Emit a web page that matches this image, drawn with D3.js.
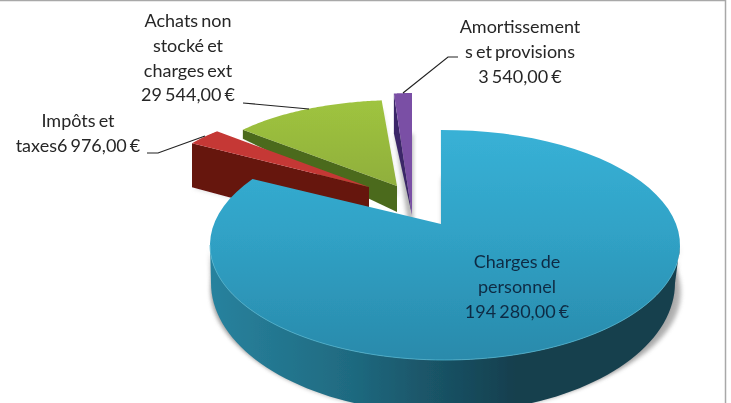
<!DOCTYPE html>
<meta charset="utf-8">
<style>
body { margin: 0; background: #fff; }
text { font-family: Lato, sans-serif; font-size: 18px; text-anchor: middle; fill: #262626; word-spacing: -1.5px; }
</style>
<svg width="731" height="403"></svg>
<script src="https://d3js.org/d3.v7.min.js"></script>
<script>

// data, clockwise from 12 o'clock
var categories = ["Charges de personnel", "Impôts et taxes", "Achats non stocké et charges ext", "Amortissements et provisions"];
var values = [194280, 6976, 29544, 3540];
// {v} is where the amount goes, the line breaks are the ones of the picture
var labelLines = [
  ["Charges de", "personnel", "{v}"],
  ["Impôts et", "taxes{v}"],
  ["Achats non", "stocké et", "charges ext", "{v}"],
  ["Amortissement", "s et provisions", "{v}"]
];

var topColours = ["url(#blueTop)", "#c53835", "url(#greenTop)", "#7a4fa5"];
var sideColours = ["url(#blueSide)", "#66120f", "#4c6a1f", "#3b2868"];

// every exploded slice has its own ellipse in the fake perspective
var frames = [
  {cx: 445, cy: 245, rx: 235, ry: 115, ax: 441, ay: 224, depthOut: 46, depthIn: 46},
  {cx: 403, cy: 180, rx: 240, ry: 77, ax: 369, ay: 187, depthOut: 44, depthIn: 48},
  {cx: 401, cy: 181, rx: 204, ry: 81, ax: 397, ay: 186, depthOut: 9, depthIn: 26},
  {cx: 412, cy: 213, rx: 191, ry: 120, ax: 412, ay: 215, depthOut: 40, depthIn: 0}
];
var blueBottom = {cx: 443, cy: 283, rx: 232, ry: 130};
// perspective opens the big slice a bit, degrees on its ellipse
var blueTurn = d3.scaleLinear().domain([0, 1]).range([-1, 305]);

var labelPos = [
  {x: 517, y: 268},
  {x: 78, y: 127},
  {x: 188, y: 27},
  {x: 520, y: 33}
];
var leaders = [
  null,
  [[147, 153], [158, 153], [205, 136]],
  [[243, 103], [309, 109]],
  [[458, 57], [448, 57], [403, 93]]
];
var lineStep = 24.8;

var svg = d3.select("svg");
var defs = svg.append("defs");

function gradient(id, x1, y1, x2, y2, stops) {
  var g = defs.append("linearGradient").attr("id", id)
    .attr("gradientUnits", "userSpaceOnUse")
    .attr("x1", x1).attr("y1", y1).attr("x2", x2).attr("y2", y2);
  stops.forEach(function(s) {
    g.append("stop").attr("offset", s[0]).attr("stop-color", s[1]);
  });
}
gradient("blueTop", 0, 130, 0, 360, [[0, "#38b1d6"], [0.45, "#30a2c6"], [1, "#2a8aab"]]);
gradient("blueSide", 210, 0, 680, 0, [[0, "#28829e"], [0.3, "#1f6a80"], [0.42, "#1b5a6e"], [0.65, "#153f4e"], [1, "#173f4d"]]);
gradient("greenTop", 0, 100, 0, 190, [[0, "#9fc43f"], [1, "#8fae3c"]]);

defs.append("filter").attr("id", "soft")
  .attr("x", "-20%").attr("y", "-20%").attr("width", "140%").attr("height", "140%")
  .append("feGaussianBlur").attr("stdDeviation", 2.2);
defs.append("filter").attr("id", "tiny")
  .append("feGaussianBlur").attr("stdDeviation", 0.35);

// frame around the picture
svg.append("rect").attr("x", -2).attr("y", 0.5)
  .attr("width", 727.5).attr("height", 410)
  .attr("fill", "#fff").attr("stroke", "#a8a8a8").attr("stroke-width", 1.5);

var pie = d3.pie().sort(null).startAngle(0).endAngle(2 * Math.PI);
var arcs = pie(values);
var line = d3.line();
var rad = Math.PI / 180;

function onEllipse(f, angle) {
  return [f.cx + f.rx * Math.sin(angle), f.cy - f.ry * Math.cos(angle)];
}

function arcPoints(f, a0, a1) {
  return d3.range(0, 81).map(function(i) {
    return onEllipse(f, a0 + (a1 - a0) * i / 80);
  });
}

function topShape(i) {
  var f = frames[i];
  var a0 = arcs[i].startAngle, a1 = arcs[i].endAngle;
  if (i === 0) {
    a0 = blueTurn(0) * rad;
    a1 = blueTurn(1) * rad;
  }
  return [[f.ax, f.ay]].concat(arcPoints(f, a0, a1));
}

function sideShape(i) {
  var f = frames[i];
  if (i === 0) {
    // the round wall in front of the big slice
    return arcPoints(f, Math.PI / 2, 3 * Math.PI / 2)
      .concat(arcPoints(blueBottom, 3 * Math.PI / 2, Math.PI / 2));
  }
  var p = onEllipse(f, arcs[i].startAngle);
  return [p, [f.ax, f.ay], [f.ax, f.ay + f.depthIn], [p[0], p[1] + f.depthOut]];
}

var order = [2, 3, 1, 0];

// soft grey shadows under the pieces
svg.append("g").selectAll("path").data(order).join("path")
  .attr("d", function(i) {
    return line(topShape(i).map(function(p) {
      return [p[0] + 1, p[1] + frames[i].depthOut + 1];
    })) + "Z";
  })
  .attr("fill", "#9a9a9a")
  .attr("opacity", function(i) { return i === 0 || i === 3 ? 0.75 : 0.35; })
  .attr("filter", "url(#soft)");
svg.append("path")
  .attr("d", line(sideShape(0)) + "Z")
  .attr("fill", "#8a8a8a").attr("opacity", 0.7)
  .attr("filter", "url(#soft)");

order.forEach(function(i) {
  var g = svg.append("g").attr("filter", "url(#tiny)");
  g.append("path").attr("d", line(sideShape(i)) + "Z").attr("fill", sideColours[i]);
  g.append("path").attr("d", line(topShape(i)) + "Z").attr("fill", topColours[i]);
});

// light rim on the front of the blue top
svg.append("path")
  .attr("d", line(arcPoints(frames[0], Math.PI * 0.55, Math.PI * 1.5)))
  .attr("fill", "none").attr("stroke", "#4fb4cf").attr("stroke-width", 0.8);

svg.append("g").selectAll("path").data(leaders.filter(Boolean)).join("path")
  .attr("d", line)
  .attr("fill", "none").attr("stroke", "#222").attr("stroke-width", 1.2);

var fr = d3.formatLocale({decimal: ",", thousands: " ", grouping: [3], currency: ["", " €"]});
var money = fr.format("$,.2f");

var labels = svg.append("g").attr("filter", "url(#tiny)");
labelLines.forEach(function(lines, i) {
  lines.forEach(function(l, k) {
    labels.append("text")
      .attr("x", labelPos[i].x)
      .attr("y", labelPos[i].y + k * lineStep)
      .style("fill", i === 0 ? "#0e2c44" : null)
      .text(l.replace("{v}", money(values[i])));
  });
});

</script>
